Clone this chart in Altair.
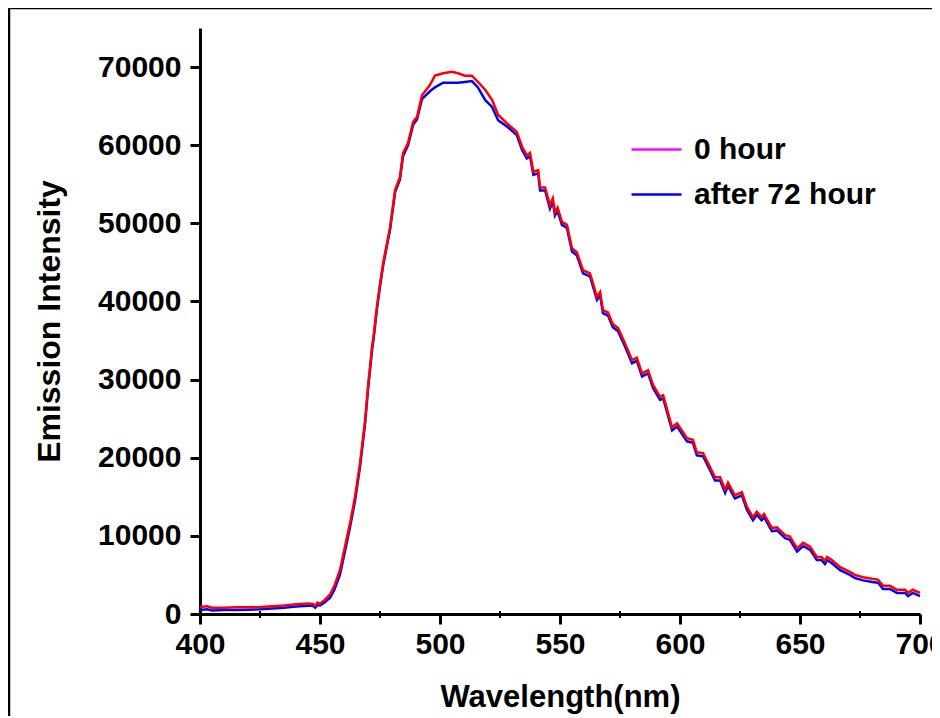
import altair as alt
import pandas as pd

# ---- data ----
wl_a = [400, 403, 405, 410, 415, 420, 425, 430, 435, 440, 445, 447, 448, 449, 450, 452]
red_a = [900, 1000, 800, 800, 850, 850, 900, 1000, 1100, 1250, 1350, 1300, 1050, 1450, 1300, 1800]
blue_a = [500, 600, 450, 500, 500, 550, 600, 700, 800, 950, 1050, 1050, 800, 1150, 1100, 1500]

wl_b = [454.2, 456, 458.3, 460.4, 462.5, 464.6, 466.7, 468.8, 470, 471.7, 472.5, 473.7, 475, 476.3,
        479.2, 481.3, 483.3, 484.6, 486.7]
red_b = [2500, 3600, 5600, 8600, 11600, 15000, 19300, 24800, 29100, 34200, 36000, 39300, 42200, 44900,
         49500, 54300, 55900, 59000, 60300]
blue_b = [2100, 3100, 5000, 8000, 11100, 14500, 18900, 24400, 28700, 33800, 35700, 39000, 41900, 44600,
          49200, 54000, 55600, 58600, 60000]

wl_c = [488.8, 490.4, 492.5, 495.8, 497.9, 501.3, 505, 507.5, 510.4, 513.3, 515.8, 518.8, 521.7, 524.2, 527.9]
red_c = [63000, 63600, 66400, 67700, 68900, 69200, 69400, 69200, 68900, 68900, 68100, 67100, 65800, 63900, 62800]
blue_c = [62600, 63300, 65900, 66900, 67400, 68000, 68000, 68000, 68100, 68200, 67400, 65800, 64900, 63200, 62400]

wl_d = [532, 534.2, 536.2, 537.5, 538.9, 540.9, 541.7, 543.8, 545.8, 547, 547.9, 549, 550.8, 552.9, 555,
        557, 559.6, 562.5, 565.4, 566.7, 567.9, 570, 572, 574.2, 577, 580, 582, 584.2, 586.7, 588.8,
        591.7, 593, 596.7, 598.8, 602.9, 605.4, 607, 609.6, 612.5, 614.6, 616.7, 618.8, 620, 622.9,
        625.8, 627.9, 630.4, 632, 634, 635, 638.3, 640.4, 643.8, 645.8, 648.8, 651.3, 654.2, 657, 659,
        660.4, 661.3, 663.3, 666.7, 670.8, 672.9, 676.3, 680, 682.5, 684.6, 687.5, 690.4, 693.8, 695,
        697, 700]
red_d = [61700, 59800, 58700, 59000, 56600, 56800, 54600, 54600, 52300, 53200, 51400, 52000, 50200, 49800,
         46800, 46300, 44000, 43600, 40600, 41200, 38900, 38600, 37100, 36600, 34700, 32500, 32800, 30800,
         31200, 29300, 27800, 28000, 23900, 24400, 22500, 22300, 20700, 20600, 18800, 17500, 17500, 15900,
         16800, 15200, 15600, 13700, 12400, 13100, 12400, 12800, 11000, 11100, 10100, 9900, 8400, 9100,
         8600, 7300, 7300, 6800, 7300, 6900, 6000, 5400, 5000, 4700, 4500, 4400, 3600, 3600, 3100, 3100,
         2700, 3100, 2700]
blue_d = [61300, 59400, 58300, 58600, 56200, 56400, 54200, 54200, 51900, 52800, 51000, 51600, 49800, 49400,
          46400, 45900, 43600, 43200, 40200, 40800, 38500, 38200, 36700, 36200, 34300, 32100, 32400, 30400,
          30800, 28900, 27400, 27600, 23500, 24000, 22100, 21900, 20300, 20200, 18400, 17100, 17100, 15500,
          16400, 14800, 15200, 13300, 12000, 12700, 12000, 12400, 10600, 10700, 9700, 9500, 8000, 8700,
          8200, 6900, 6900, 6400, 6900, 6500, 5600, 5000, 4600, 4300, 4100, 4000, 3200, 3200, 2700, 2700,
          2300, 2700, 2300]

series_names = ["0 hour", "after 72 hour"]
legend_colors = ["#ff00ff", "#0000ff"]
x_ticks = [400, 450, 500, 550, 600, 650, 700]
x_minor = [425, 475, 525, 575, 625, 675]
y_ticks = [0, 10000, 20000, 30000, 40000, 50000, 60000, 70000]

wavelength = wl_a + wl_b + wl_c + wl_d
red = red_a + red_b + red_c + red_d
blue = blue_a + blue_b + blue_c + blue_d
assert len(wavelength) == len(red) == len(blue)

df_red = pd.DataFrame({"wl": wavelength, "I": red, "series": series_names[0]})
df_blue = pd.DataFrame({"wl": wavelength, "I": blue, "series": series_names[1]})
df_all = pd.concat([df_red, df_blue], ignore_index=True)

FONT = "Liberation Sans"
FS = 30
W, H = 720, 586

xscale = alt.Scale(domain=[400, 700], nice=False, zero=False)
yscale = alt.Scale(domain=[0, 75000], nice=False)

x_axis = alt.Axis(values=x_ticks, format="d", title="Wavelength(nm)", grid=False,
                  domainWidth=3, domainColor="black", tickWidth=3, tickColor="black", tickSize=10,
                  labelFont=FONT, labelFontSize=FS, labelFontWeight="bold", labelColor="black",
                  labelPadding=5, labelFlush=False, labelOverlap=False,
                  titleFont=FONT, titleFontSize=31, titleFontWeight="bold", titleColor="black",
                  titlePadding=23)
y_axis = alt.Axis(values=y_ticks, format="d", title="Emission Intensity", grid=False,
                  domainWidth=3, domainColor="black", tickWidth=3, tickColor="black", tickSize=10,
                  labelFont=FONT, labelFontSize=FS, labelFontWeight="bold", labelColor="black",
                  labelPadding=9, labelFlush=False, labelOverlap=False,
                  titleFont=FONT, titleFontSize=32, titleFontWeight="bold", titleColor="black",
                  titlePadding=31)

# outer frame
frame = alt.Chart(pd.DataFrame({"k": [0]})).mark_rect(
    fill="transparent", stroke="black", strokeWidth=2.5
).encode(x=alt.value(-191), x2=alt.value(W + 100), y=alt.value(-20), y2=alt.value(H + 200))

minor = alt.Chart(pd.DataFrame({"wl": x_minor})).mark_rule(color="black", strokeWidth=2).encode(
    x=alt.X("wl:Q", scale=xscale, axis=x_axis),
    y=alt.value(H - 3), y2=alt.value(H + 4)
)

blue_line = alt.Chart(df_blue).mark_line(color="#0000ff", strokeWidth=2.5).encode(
    x=alt.X("wl:Q", scale=xscale, axis=x_axis),
    y=alt.Y("I:Q", scale=yscale, axis=y_axis),
)
red_line = alt.Chart(df_red).mark_line(color="#ff0000", strokeWidth=2.5).encode(
    x=alt.X("wl:Q", scale=xscale, axis=x_axis),
    y=alt.Y("I:Q", scale=yscale, axis=y_axis),
)

legend_layer = alt.Chart(df_all).mark_line(opacity=0).encode(
    x=alt.X("wl:Q", scale=xscale, axis=x_axis),
    y=alt.Y("I:Q", scale=yscale, axis=y_axis),
    color=alt.Color("series:N", scale=alt.Scale(domain=series_names, range=legend_colors),
                    legend=alt.Legend(orient="none", legendX=430, legendY=95, title=None,
                                      symbolType="stroke", symbolSize=2500, symbolStrokeWidth=2.5,
                                      symbolOpacity=1, labelFont=FONT, labelFontSize=FS,
                                      labelFontWeight="bold", labelColor="black", labelOffset=11,
                                      rowPadding=3, labelLimit=400)),
)

chart = alt.layer(frame, minor, blue_line, red_line, legend_layer).properties(
    width=W, height=H,
    autosize=alt.AutoSizeParams(type="none"),
    padding={"left": 192, "top": 20, "right": 12, "bottom": 102},
    background="white",
).configure_view(strokeWidth=0)

chart.save("out.html", embed_options={"renderer": "svg", "actions": False})
